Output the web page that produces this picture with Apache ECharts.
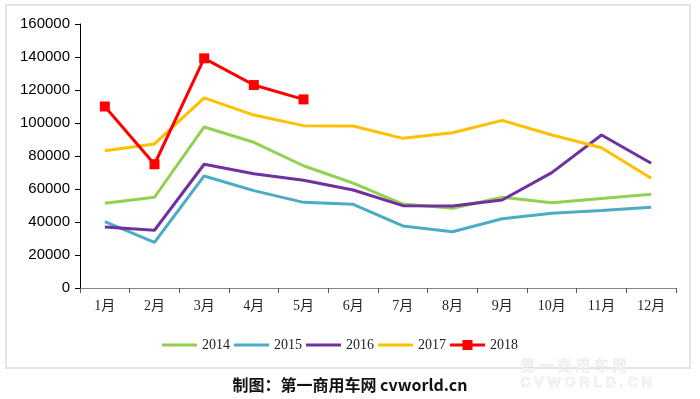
<!DOCTYPE html>
<html><head><meta charset="utf-8">
<script src="https://cdn.jsdelivr.net/npm/echarts@6/dist/echarts.min.js"></script>
<style>html,body{margin:0;padding:0;background:#fff}#c{width:700px;height:399px}</style>
</head><body><div id="c"></div>
<script>
const categories = ['1月','2月','3月','4月','5月','6月','7月','8月','9月','10月','11月','12月'];
const yTicks = [0,20000,40000,60000,80000,100000,120000,140000,160000];
const s2014 = [51300,55000,97600,88300,74100,63600,50900,48300,55000,51700,54300,56800];
const s2015 = [40200,27700,67900,59000,51900,50700,37600,34100,42000,45300,47000,48900];
const s2016 = [37000,35000,75000,69300,65300,59400,49900,49700,53300,69900,92700,75600];
const s2017 = [83200,87300,115200,104800,98400,98200,90700,94100,101600,92700,85000,66500];
const s2018 = [110000,75000,139200,123000,114300];
const names = ['2014','2015','2016','2017','2018'];
const colors = ['#92D050','#4BACC6','#7030A0','#FFC000','#FF0000'];

const chart = echarts.init(document.getElementById('c'));
const serif = '"Liberation Serif","Noto Sans CJK SC",serif';
const lineIcon = 'path://M0,3.5H35V6.5H0Z';
const markIcon = 'path://M0,3.5H12.5V0H22.5V3.5H35V6.5H22.5V10H12.5V6.5H0Z';
const mk = (name, data, color, marker) => ({
  name, type: 'line', data,
  symbol: marker ? 'rect' : 'none', symbolSize: 10,
  lineStyle: { color, width: 3 },
  itemStyle: { color },
  z: marker ? 5 : 2,
  animation: false
});
chart.setOption({
  animation: false,
  grid: { left: 80, right: 24, top: 24, bottom: 111 },
  legend: {
    data: names.map((n, i) => ({ name: n, icon: i === 4 ? markIcon : lineIcon })),
    left: 157, top: 333,
    itemWidth: 35, itemHeight: 10, itemGap: 4,
    textStyle: { fontFamily: serif, fontSize: 14, color: '#222' }
  },
  xAxis: {
    type: 'category', data: categories, boundaryGap: true,
    axisLine: { lineStyle: { color: '#868686', width: 1 } },
    axisTick: { show: true, length: 5, lineStyle: { color: '#555' } },
    axisLabel: { fontFamily: serif, fontSize: 14, color: '#222', margin: 11, interval: 0 }
  },
  yAxis: {
    type: 'value', min: yTicks[0], max: yTicks[yTicks.length-1], interval: yTicks[1]-yTicks[0],
    axisLine: { show: true, lineStyle: { color: '#000', width: 1 } },
    axisTick: { show: true, length: 5, lineStyle: { color: '#000' } },
    splitLine: { show: false },
    axisLabel: { fontFamily: '"Liberation Sans",Arial,sans-serif', fontSize: 15, color: '#000', margin: 10,
      formatter: v => String(v) }
  },
  graphic: [
    { type: 'rect', shape: { x: 6, y: 5, width: 684, height: 363 }, style: { fill: 'none', stroke: '#e3e3e3', lineWidth: 2 }, z: -10 },
    { type: 'text', left: 'center', top: 377, style: { text: '制图：第一商用车网 cvworld.cn', font: 'bold 16px "Noto Sans CJK SC", sans-serif', fill: '#111' } },
    { type: 'text', left: 520, top: 357, style: { text: '第 一 商 用 车 网', font: '15px "Noto Sans CJK SC", sans-serif', fill: '#f4f4f4', stroke: '#e0e0e0', lineWidth: 0.6 } },
    { type: 'text', left: 520, top: 376, style: { text: 'C V W O R L D . C N', font: 'bold 14px "Liberation Sans", sans-serif', fill: '#f4f4f4', stroke: '#e0e0e0', lineWidth: 0.6 } }
  ],
  series: [
    mk(names[0], s2014, colors[0], false),
    mk(names[1], s2015, colors[1], false),
    mk(names[2], s2016, colors[2], false),
    mk(names[3], s2017, colors[3], false),
    mk(names[4], s2018, colors[4], true)
  ]
});
</script></body></html>
